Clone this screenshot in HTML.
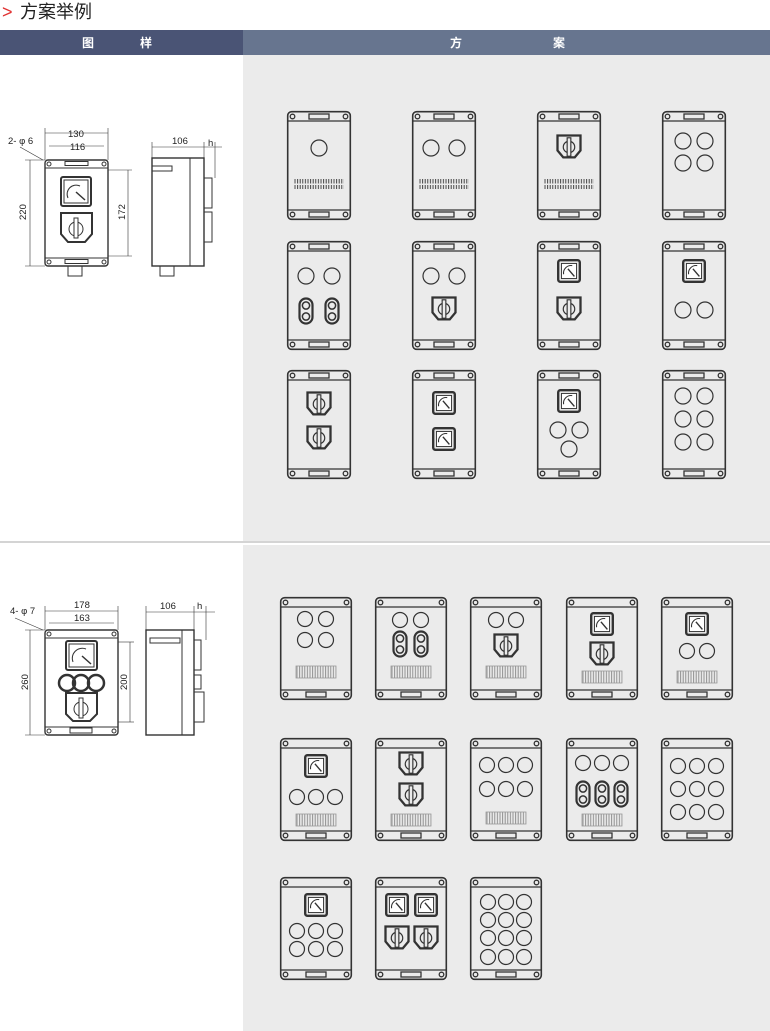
<!DOCTYPE html>
<html><head><meta charset="utf-8"><style>
html,body{margin:0;padding:0;background:#fff;}
body{width:770px;height:1031px;overflow:hidden;position:relative;font-family:"Liberation Sans","Noto Sans CJK SC",sans-serif;}
</style></head><body>
<svg width="770" height="1031" viewBox="0 0 770 1031" xmlns="http://www.w3.org/2000/svg" style="position:absolute;left:0;top:0">
<defs>
<pattern id="tk" width="2.6" height="12" patternUnits="userSpaceOnUse">
<line x1="1" y1="0" x2="1" y2="4.5" stroke="#333" stroke-width="0.9"/>
<line x1="1" y1="6" x2="1" y2="10" stroke="#333" stroke-width="0.9"/>
</pattern>
<pattern id="tk2" width="2.6" height="12" patternUnits="userSpaceOnUse">
<line x1="1" y1="0" x2="1" y2="12" stroke="#888" stroke-width="0.9"/>
</pattern>
<g id="tb" fill="none" stroke="#333" stroke-width="1.3">
<rect x="0.7" y="0.7" width="62.6" height="107.6" rx="4" fill="#ebebeb" stroke-width="1.6"/>
<line x1="1" y1="10" x2="63" y2="10"/><line x1="1" y1="99" x2="63" y2="99"/>
<circle cx="5.5" cy="5.5" r="2.3"/><circle cx="58.5" cy="5.5" r="2.3"/>
<circle cx="5.5" cy="103.5" r="2.3"/><circle cx="58.5" cy="103.5" r="2.3"/>
<rect x="22" y="3" width="20" height="5"/><rect x="22" y="101" width="20" height="5"/>
</g>
<g id="bb" fill="none" stroke="#333" stroke-width="1.3">
<rect x="0.7" y="0.7" width="70.6" height="101.6" rx="4" fill="#ebebeb" stroke-width="1.6"/>
<line x1="1" y1="10" x2="71" y2="10"/><line x1="1" y1="93" x2="71" y2="93"/>
<circle cx="5.5" cy="5.5" r="2.3"/><circle cx="66.5" cy="5.5" r="2.3"/>
<circle cx="5.5" cy="97.5" r="2.3"/><circle cx="66.5" cy="97.5" r="2.3"/>
<rect x="26" y="95" width="20" height="5"/>
</g>
<rect id="ts" x="0" y="0" width="50" height="11" fill="url(#tk)"/>
<rect id="bs" x="0" y="0" width="40" height="12" fill="url(#tk2)" stroke="#999" stroke-width="0.8"/>
<g id="c" fill="none" stroke="#333" stroke-width="1.2"><circle r="8"/></g>
<g id="cs" fill="none" stroke="#333" stroke-width="1.2"><circle r="7.5"/></g>
<g id="m" fill="none" stroke="#333" transform="scale(1.08)">
<rect x="-10" y="-10" width="20" height="20" rx="2" stroke-width="2.2" fill="#ebebeb"/>
<rect x="-7" y="-7" width="14" height="14" stroke-width="0.9" fill="#fff"/>
<path d="M-5,3 A7,7 0 0 1 3,-5" stroke-width="1"/>
<line x1="-1" y1="-2" x2="5" y2="5" stroke-width="1.3"/>
</g>
<g id="sw" fill="none" stroke="#333" transform="scale(1.15)">
<path d="M-10,-10 H10 V3 L5,9 H-5 L-10,3Z" stroke-width="2" fill="#ebebeb"/>
<circle r="5" stroke-width="1"/>
<rect x="-1.6" y="-8" width="3.2" height="16" stroke-width="1" fill="#ebebeb"/>
</g>
<g id="db" fill="none" stroke="#333">
<rect x="-6.5" y="-12.5" width="13" height="25" rx="6.5" stroke-width="2.2"/>
<circle cy="-5.5" r="3.6" stroke-width="1.5"/><circle cy="5.5" r="3.6" stroke-width="1.5"/>
</g>
</defs>

<text x="2" y="18" font-size="18" fill="#e03030" font-family="Liberation Sans,sans-serif">&gt;</text>
<text x="20" y="18" font-size="18" fill="#222" font-family="'Noto Sans CJK SC',sans-serif">方案举例</text>
<rect x="0" y="30" width="243" height="25" fill="#4a5475"/>
<rect x="243" y="30" width="527" height="25" fill="#67758f"/>
<text x="82" y="47" font-size="12" fill="#fff" font-weight="bold" font-family="'Noto Sans CJK SC',sans-serif">图</text>
<text x="140" y="47" font-size="12" fill="#fff" font-weight="bold" font-family="'Noto Sans CJK SC',sans-serif">样</text>
<text x="450" y="47" font-size="12" fill="#fff" font-weight="bold" font-family="'Noto Sans CJK SC',sans-serif">方</text>
<text x="553" y="47" font-size="12" fill="#fff" font-weight="bold" font-family="'Noto Sans CJK SC',sans-serif">案</text>
<rect x="243" y="55" width="527" height="486" fill="#ebebeb"/>
<line x1="0" y1="542" x2="770" y2="542" stroke="#aaa" stroke-width="1"/>
<rect x="243" y="545" width="527" height="486" fill="#ebebeb"/>

<g fill="none" stroke="#333" stroke-width="1" font-family="Liberation Sans,sans-serif">
<rect x="45" y="160" width="63" height="106" rx="3" stroke-width="1.4"/>
<line x1="45" y1="168" x2="108" y2="168"/><line x1="45" y1="258" x2="108" y2="258"/>
<circle cx="49" cy="164" r="2"/><circle cx="104" cy="164" r="2"/><circle cx="49" cy="262" r="2"/><circle cx="104" cy="262" r="2"/>
<rect x="65" y="161.5" width="23" height="4"/><rect x="65" y="259.5" width="23" height="4"/>
<rect x="61" y="177" width="30" height="29" rx="2" stroke-width="2"/><rect x="64" y="180" width="24" height="23"/>
<path d="M68,198 A9,9 0 0 1 80,186"/><line x1="76" y1="192" x2="85" y2="200" stroke-width="1.5"/>
<path d="M61,213 H92 V234 L85,242 H68 L61,234Z" stroke-width="2"/><circle cx="76" cy="229" r="7"/><rect x="74" y="218" width="4" height="20" fill="#fff"/>
<rect x="68" y="266" width="14" height="10"/>
<line x1="45" y1="133" x2="108" y2="133" stroke-width="0.6"/><line x1="45" y1="128" x2="45" y2="160" stroke-width="0.6"/><line x1="108" y1="128" x2="108" y2="160" stroke-width="0.6"/>
<line x1="49" y1="146" x2="104" y2="146" stroke-width="0.6"/>
<line x1="30" y1="160" x2="30" y2="266" stroke-width="0.6"/><line x1="25" y1="160" x2="45" y2="160" stroke-width="0.6"/><line x1="25" y1="266" x2="45" y2="266" stroke-width="0.6"/>
<line x1="128" y1="170" x2="128" y2="256" stroke-width="0.6"/><line x1="108" y1="170" x2="132" y2="170" stroke-width="0.6"/><line x1="108" y1="256" x2="132" y2="256" stroke-width="0.6"/>
<line x1="20" y1="147" x2="43" y2="160" stroke-width="0.6"/>
<rect x="152" y="158" width="52" height="108" stroke-width="1.4"/><line x1="190" y1="158" x2="190" y2="266"/>
<rect x="204" y="178" width="8" height="30"/><rect x="204" y="212" width="8" height="30"/>
<rect x="152" y="166" width="20" height="5"/>
<rect x="160" y="266" width="14" height="10"/>
<line x1="152" y1="147" x2="204" y2="147" stroke-width="0.6"/><line x1="152" y1="142" x2="152" y2="158" stroke-width="0.6"/><line x1="204" y1="142" x2="204" y2="158" stroke-width="0.6"/>
<line x1="204" y1="147" x2="222" y2="147" stroke-width="0.6"/><line x1="215" y1="142" x2="215" y2="178" stroke-width="0.6"/>
</g>
<g font-size="9.5" fill="#222" font-family="Liberation Sans,sans-serif">
<text x="68" y="137">130</text><text x="70" y="150">116</text><text x="8" y="144">2- φ 6</text>
<text x="172" y="144">106</text><text x="208" y="146">h</text>
<text transform="translate(26,220) rotate(-90)">220</text>
<text transform="translate(125,220) rotate(-90)">172</text>
</g>

<g fill="none" stroke="#333" stroke-width="1">
<rect x="45" y="630" width="73" height="105" rx="3" stroke-width="1.4"/>
<line x1="45" y1="638" x2="118" y2="638"/><line x1="45" y1="727" x2="118" y2="727"/>
<circle cx="49" cy="634" r="2"/><circle cx="114" cy="634" r="2"/><circle cx="49" cy="731" r="2"/><circle cx="114" cy="731" r="2"/>
<rect x="70" y="728" width="22" height="5"/>
<rect x="66" y="641" width="31" height="29" rx="2" stroke-width="2"/><rect x="69" y="644" width="25" height="23"/>
<path d="M73,662 A10,10 0 0 1 86,649"/><line x1="82" y1="656" x2="91" y2="664" stroke-width="1.5"/>
<circle cx="67" cy="683" r="8" stroke-width="2.5"/><circle cx="81" cy="683" r="8" stroke-width="2.5"/><circle cx="96" cy="683" r="8" stroke-width="2.5"/>
<path d="M66,693 H97 V714 L90,721 H73 L66,714Z" stroke-width="2"/><circle cx="81" cy="709" r="7"/><rect x="79" y="698" width="4" height="20" fill="#fff"/>
<line x1="45" y1="611" x2="118" y2="611" stroke-width="0.6"/><line x1="49" y1="623" x2="114" y2="623" stroke-width="0.6"/>
<line x1="45" y1="606" x2="45" y2="630" stroke-width="0.6"/><line x1="118" y1="606" x2="118" y2="630" stroke-width="0.6"/>
<line x1="30" y1="630" x2="30" y2="735" stroke-width="0.6"/><line x1="25" y1="630" x2="45" y2="630" stroke-width="0.6"/><line x1="25" y1="735" x2="45" y2="735" stroke-width="0.6"/>
<line x1="130" y1="642" x2="130" y2="722" stroke-width="0.6"/><line x1="118" y1="642" x2="134" y2="642" stroke-width="0.6"/><line x1="118" y1="722" x2="134" y2="722" stroke-width="0.6"/>
<line x1="15" y1="618" x2="43" y2="630" stroke-width="0.6"/>
<rect x="146" y="630" width="48" height="105" stroke-width="1.4"/><line x1="182" y1="630" x2="182" y2="735"/>
<rect x="194" y="640" width="7" height="30"/><rect x="194" y="675" width="7" height="14"/><rect x="194" y="692" width="10" height="30"/>
<rect x="150" y="638" width="30" height="5"/>
<line x1="146" y1="612" x2="194" y2="612" stroke-width="0.6"/><line x1="146" y1="606" x2="146" y2="630" stroke-width="0.6"/><line x1="194" y1="606" x2="194" y2="630" stroke-width="0.6"/>
<line x1="194" y1="612" x2="215" y2="612" stroke-width="0.6"/><line x1="206" y1="606" x2="206" y2="640" stroke-width="0.6"/>
</g>
<g font-size="9.5" fill="#222" font-family="Liberation Sans,sans-serif">
<text x="74" y="608">178</text><text x="74" y="621">163</text><text x="10" y="614">4- φ 7</text>
<text x="160" y="609">106</text><text x="197" y="609">h</text>
<text transform="translate(28,690) rotate(-90)">260</text>
<text transform="translate(127,690) rotate(-90)">200</text>
</g>

<g transform="translate(287,111)"><use href="#tb"/><use href="#c" x="32" y="37"/><use href="#ts" x="7" y="68"/></g>
<g transform="translate(412,111)"><use href="#tb"/><use href="#c" x="19" y="37"/><use href="#c" x="45" y="37"/><use href="#ts" x="7" y="68"/></g>
<g transform="translate(537,111)"><use href="#tb"/><use href="#sw" x="32" y="36"/><use href="#ts" x="7" y="68"/></g>
<g transform="translate(662,111)"><use href="#tb"/><use href="#c" x="21" y="30"/><use href="#c" x="43" y="30"/><use href="#c" x="21" y="52"/><use href="#c" x="43" y="52"/></g>
<g transform="translate(287,241)"><use href="#tb"/><use href="#c" x="19" y="35"/><use href="#c" x="45" y="35"/><use href="#db" x="19" y="70"/><use href="#db" x="45" y="70"/></g>
<g transform="translate(412,241)"><use href="#tb"/><use href="#c" x="19" y="35"/><use href="#c" x="45" y="35"/><use href="#sw" x="32" y="68"/></g>
<g transform="translate(537,241)"><use href="#tb"/><use href="#m" x="32" y="30"/><use href="#sw" x="32" y="68"/></g>
<g transform="translate(662,241)"><use href="#tb"/><use href="#m" x="32" y="30"/><use href="#c" x="21" y="69"/><use href="#c" x="43" y="69"/></g>
<g transform="translate(287,370)"><use href="#tb"/><use href="#sw" x="32" y="34"/><use href="#sw" x="32" y="68"/></g>
<g transform="translate(412,370)"><use href="#tb"/><use href="#m" x="32" y="33"/><use href="#m" x="32" y="69"/></g>
<g transform="translate(537,370)"><use href="#tb"/><use href="#m" x="32" y="31"/><use href="#c" x="21" y="60"/><use href="#c" x="43" y="60"/><use href="#c" x="32" y="79"/></g>
<g transform="translate(662,370)"><use href="#tb"/><use href="#c" x="21" y="26"/><use href="#c" x="43" y="26"/><use href="#c" x="21" y="49"/><use href="#c" x="43" y="49"/><use href="#c" x="21" y="72"/><use href="#c" x="43" y="72"/></g>

<g transform="translate(280,597)"><use href="#bb"/><use href="#cs" x="25" y="22"/><use href="#cs" x="46" y="22"/><use href="#cs" x="25" y="43"/><use href="#cs" x="46" y="43"/><use href="#bs" x="16" y="69"/></g>
<g transform="translate(375,597)"><use href="#bb"/><use href="#cs" x="25" y="23"/><use href="#cs" x="46" y="23"/><use href="#db" x="25" y="47"/><use href="#db" x="46" y="47"/><use href="#bs" x="16" y="69"/></g>
<g transform="translate(470,597)"><use href="#bb"/><use href="#cs" x="26" y="23"/><use href="#cs" x="46" y="23"/><use href="#sw" x="36" y="49"/><use href="#bs" x="16" y="69"/></g>
<g transform="translate(566,597)"><use href="#bb"/><use href="#m" x="36" y="27"/><use href="#sw" x="36" y="57"/><use href="#bs" x="16" y="74"/></g>
<g transform="translate(661,597)"><use href="#bb"/><use href="#m" x="36" y="27"/><use href="#cs" x="26" y="54"/><use href="#cs" x="46" y="54"/><use href="#bs" x="16" y="74"/></g>
<g transform="translate(280,738)"><use href="#bb"/><use href="#m" x="36" y="28"/><use href="#cs" x="17" y="59"/><use href="#cs" x="36" y="59"/><use href="#cs" x="55" y="59"/><use href="#bs" x="16" y="76"/></g>
<g transform="translate(375,738)"><use href="#bb"/><use href="#sw" x="36" y="26"/><use href="#sw" x="36" y="57"/><use href="#bs" x="16" y="76"/></g>
<g transform="translate(470,738)"><use href="#bb"/><use href="#cs" x="17" y="27"/><use href="#cs" x="36" y="27"/><use href="#cs" x="55" y="27"/><use href="#cs" x="17" y="51"/><use href="#cs" x="36" y="51"/><use href="#cs" x="55" y="51"/><use href="#bs" x="16" y="74"/></g>
<g transform="translate(566,738)"><use href="#bb"/><use href="#cs" x="17" y="25"/><use href="#cs" x="36" y="25"/><use href="#cs" x="55" y="25"/><use href="#db" x="17" y="56"/><use href="#db" x="36" y="56"/><use href="#db" x="55" y="56"/><use href="#bs" x="16" y="76"/></g>
<g transform="translate(661,738)"><use href="#bb"/><use href="#cs" x="17" y="28"/><use href="#cs" x="36" y="28"/><use href="#cs" x="55" y="28"/><use href="#cs" x="17" y="51"/><use href="#cs" x="36" y="51"/><use href="#cs" x="55" y="51"/><use href="#cs" x="17" y="74"/><use href="#cs" x="36" y="74"/><use href="#cs" x="55" y="74"/></g>
<g transform="translate(280,877)"><use href="#bb"/><use href="#m" x="36" y="28"/><use href="#cs" x="17" y="54"/><use href="#cs" x="36" y="54"/><use href="#cs" x="55" y="54"/><use href="#cs" x="17" y="72"/><use href="#cs" x="36" y="72"/><use href="#cs" x="55" y="72"/></g>
<g transform="translate(375,877)"><use href="#bb"/><use href="#m" x="22" y="28"/><use href="#m" x="51" y="28"/><use href="#sw" x="22" y="61"/><use href="#sw" x="51" y="61"/></g>
<g transform="translate(470,877)"><use href="#bb"/><use href="#cs" x="18" y="25"/><use href="#cs" x="36" y="25"/><use href="#cs" x="54" y="25"/><use href="#cs" x="18" y="43"/><use href="#cs" x="36" y="43"/><use href="#cs" x="54" y="43"/><use href="#cs" x="18" y="61"/><use href="#cs" x="36" y="61"/><use href="#cs" x="54" y="61"/><use href="#cs" x="18" y="80"/><use href="#cs" x="36" y="80"/><use href="#cs" x="54" y="80"/></g>
</svg>
</body></html>
